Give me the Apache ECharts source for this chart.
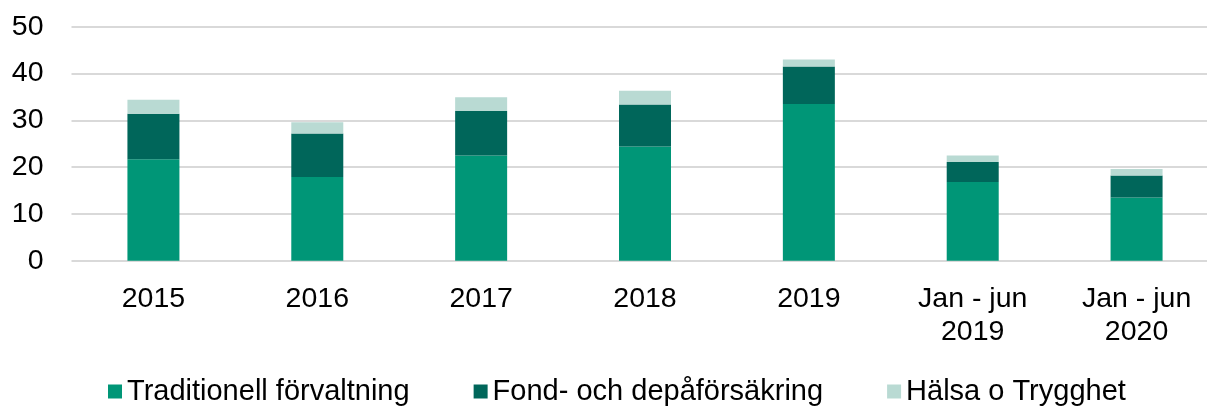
<!DOCTYPE html>
<html>
<head>
<meta charset="utf-8">
<script src="https://cdn.jsdelivr.net/npm/echarts@6/dist/echarts.min.js"></script>
<style>
  html, body { margin: 0; padding: 0; background: #fff; }
  #chart { width: 1207px; height: 408px; }
</style>
</head>
<body>
<div id="chart"></div>
<script>
var categories = ['2015', '2016', '2017', '2018', '2019', 'Jan - jun\n2019', 'Jan - jun\n2020'];
var seriesNames = ['Traditionell förvaltning', 'Fond- och depåförsäkring', 'Hälsa o Trygghet'];
var traditionell = [21.7, 17.9, 22.5, 24.4, 33.5, 16.8, 13.5];
var fond = [9.7, 9.3, 9.5, 9.0, 8.0, 4.3, 4.7];
var halsa = [3.0, 2.4, 2.9, 2.9, 1.5, 1.4, 1.4];
var yTicks = [0, 10, 20, 30, 40, 50];

var colors = ['#009677', '#00665a', '#b9dad3'];
var font = '"Liberation Sans", Arial, sans-serif';

var chart = echarts.init(document.getElementById('chart'));
var option = {
    animation: false,
    color: colors,
    grid: {
        left: 71.5,
        top: 26.7,
        width: 1147,
        height: 234,
        containLabel: false,
        outerBoundsMode: 'none'
    },
    legend: {
        data: seriesNames,
        bottom: -3,
        left: 103,
        icon: 'rect',
        itemWidth: 14,
        itemHeight: 14,
        itemGap: 64,
        textStyle: { fontFamily: font, fontSize: 29, color: '#000' }
    },
    xAxis: {
        type: 'category',
        data: categories,
        axisLine: { show: false },
        axisTick: { show: false },
        axisLabel: {
            fontFamily: font,
            fontSize: 28.5,
            color: '#000',
            lineHeight: 33,
            margin: 22,
            interval: 0
        }
    },
    yAxis: {
        type: 'value',
        min: yTicks[0],
        max: yTicks[yTicks.length - 1],
        interval: 10,
        axisLine: { show: false },
        axisTick: { show: false },
        splitLine: { lineStyle: { color: '#d9d9d9', width: 2 } },
        axisLabel: {
            fontFamily: font,
            fontSize: 28.5,
            color: '#000',
            margin: 28
        }
    },
    series: [
        { name: seriesNames[0], type: 'bar', stack: 'a', barWidth: 52, data: traditionell },
        { name: seriesNames[1], type: 'bar', stack: 'a', barWidth: 52, data: fond },
        { name: seriesNames[2], type: 'bar', stack: 'a', barWidth: 52, data: halsa }
    ]
};
chart.setOption(option);
</script>
</body>
</html>
